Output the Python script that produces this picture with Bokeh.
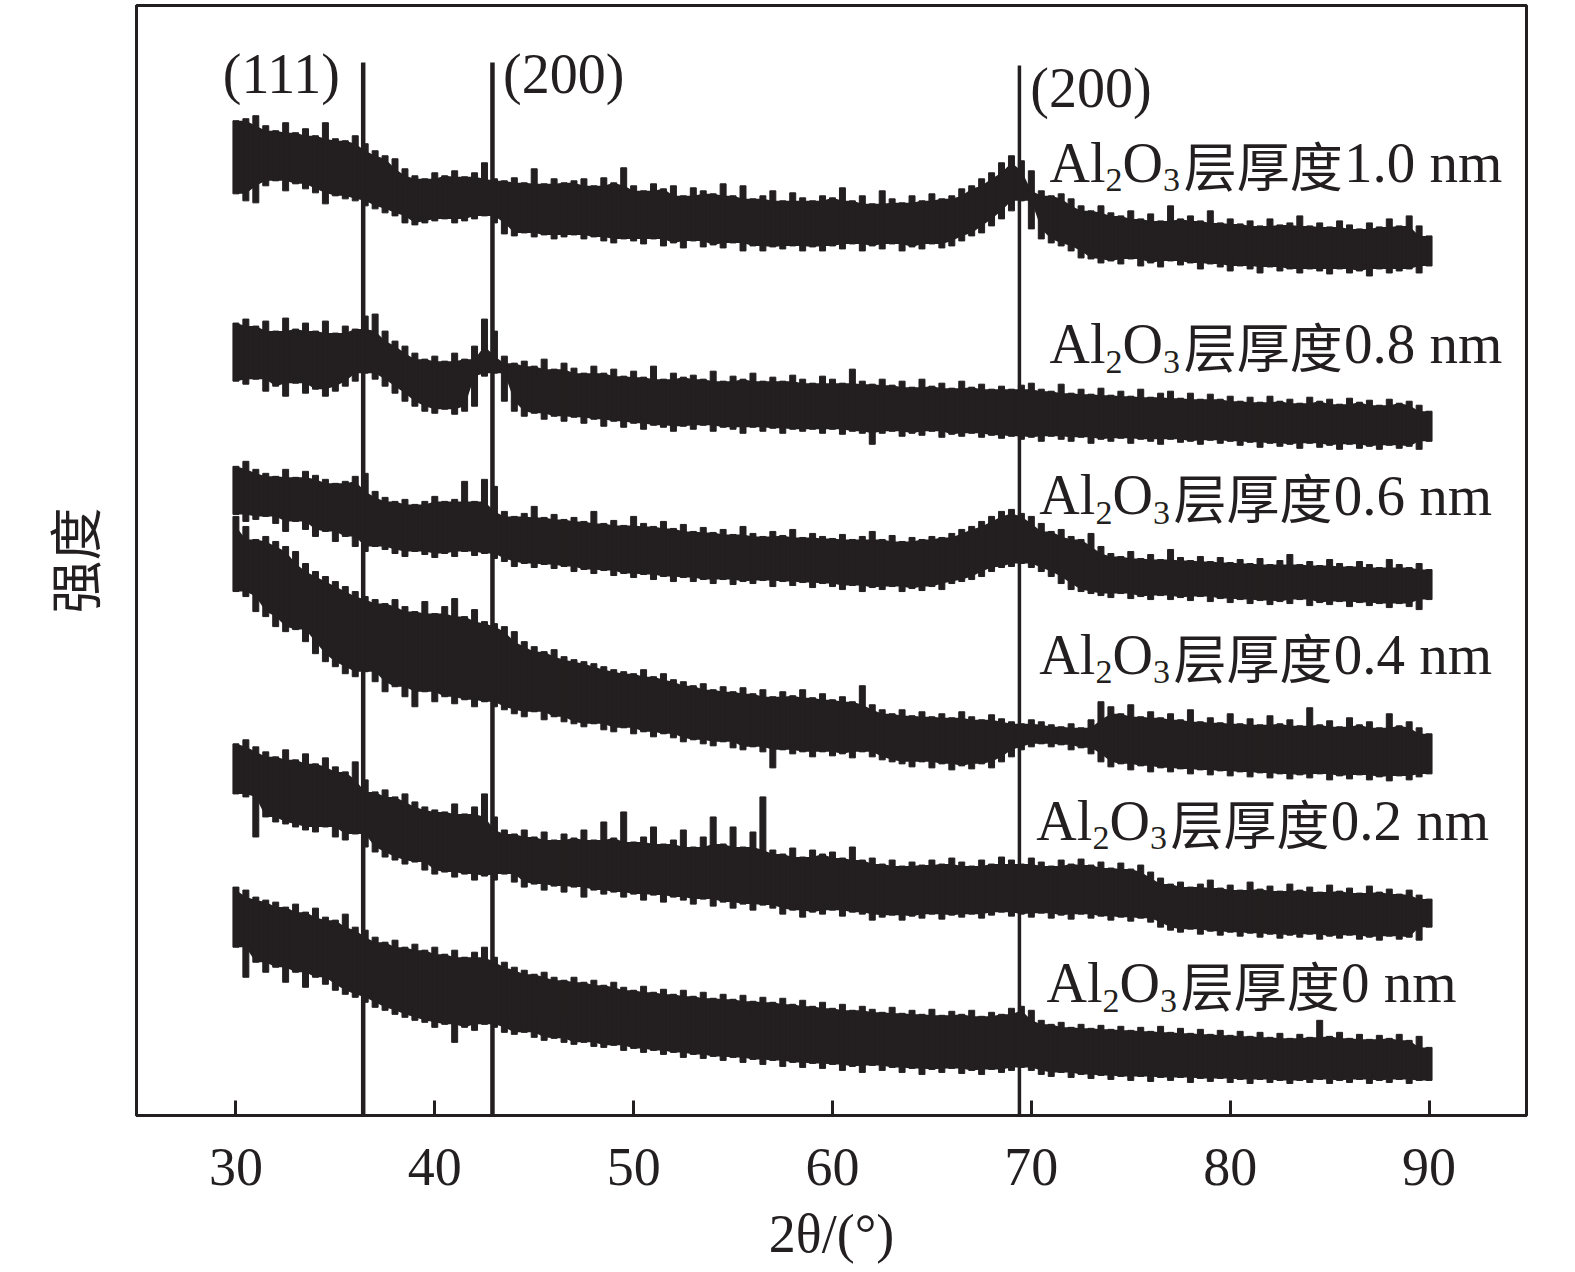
import numpy as np
from bokeh.plotting import figure
from bokeh.models import Range1d, Label, FixedTicker
from bokeh.embed import file_html
from bokeh.resources import INLINE

# ---------------- data ----------------
two_theta = np.arange(30.0, 90.01, 0.5)   # sampling grid (deg)

# upper / lower envelope of the noisy band of each pattern (offset intensity, a.u.)
hi_10 = [980,982,985,975,970,978,968,972,965,978,962,960,965,957,950,945,942,932,925,922,
         928,925,930,924,928,938,922,920,923,918,932,917,922,918,920,922,915,923,918,933,
         915,910,917,912,915,905,913,910,907,917,905,915,902,905,910,900,908,903,900,905,
         903,913,900,905,897,910,902,898,905,900,907,902,905,912,915,922,928,938,945,940,
         930,910,905,907,902,895,890,895,888,885,890,882,887,880,895,882,885,880,890,878,
         882,877,880,875,882,876,878,885,875,878,874,880,876,872,878,874,882,875,885,875,865]
lo_10 = [907,900,898,915,920,910,917,912,908,897,905,902,900,895,892,888,885,878,876,878,
         880,882,878,880,882,885,878,867,865,868,864,866,862,864,866,862,864,860,858,862,
         860,857,862,855,858,853,860,854,856,853,858,850,855,850,854,852,855,850,854,850,
         855,852,857,850,855,852,857,850,854,852,857,853,855,860,865,868,875,882,890,900,
         872,862,858,855,850,843,842,838,840,837,842,835,838,834,840,836,838,832,837,834,
         830,835,832,828,834,830,832,828,832,830,827,832,828,830,825,832,828,830,832,828,835]

hi_08 = [778,782,775,780,770,783,772,778,770,780,768,775,772,785,787,770,760,755,748,742,
         745,740,748,742,755,782,770,745,738,740,735,742,732,738,733,728,735,728,732,725,
         730,724,735,722,728,724,726,722,730,720,725,722,728,720,724,720,726,722,718,725,
         722,718,732,720,717,722,716,720,714,722,715,718,713,720,714,717,712,715,712,716,
         718,712,710,717,708,712,707,713,706,710,705,712,704,708,710,703,708,702,707,702,
         705,700,704,699,705,700,702,698,704,700,702,697,703,699,701,696,702,698,700,696,690]
lo_08 = [720,717,722,710,715,705,718,708,712,705,710,715,720,728,722,715,708,700,695,690,
         688,692,687,690,695,725,728,700,690,685,688,682,685,680,684,678,682,675,680,674,
         678,672,676,674,670,675,672,676,670,674,672,668,674,670,673,668,672,670,672,668,
         672,667,670,668,657,668,670,665,668,666,670,664,667,665,668,664,666,663,665,662,
         664,660,665,662,660,664,658,662,660,663,658,662,660,657,662,659,660,657,661,658,
         660,656,659,654,658,655,657,653,658,654,656,652,657,653,655,652,656,653,655,652,660]

hi_06 = [635,640,632,628,625,632,624,630,626,622,618,620,625,628,610,604,600,602,597,600,
         605,600,602,620,600,622,615,590,585,588,595,584,587,582,584,580,590,578,581,576,
         585,578,575,580,573,577,570,574,569,572,567,575,568,565,570,566,572,564,568,565,
         563,567,562,565,570,562,566,560,564,562,565,564,568,572,575,580,585,590,592,588,
         585,578,570,572,565,562,568,555,548,545,550,543,547,542,552,544,541,545,540,544,
         539,542,538,543,537,541,547,537,540,536,542,538,535,540,537,534,542,537,534,538,532]
lo_06 = [587,580,582,585,578,570,580,572,565,570,560,565,555,550,555,552,548,545,550,547,
         544,548,545,550,546,548,543,540,535,538,534,537,533,535,530,532,528,531,526,528,
         524,527,522,525,520,524,520,522,518,522,517,520,518,521,515,520,516,519,514,518,
         515,512,516,510,514,512,515,510,513,511,515,512,518,520,522,525,530,534,535,538,
         534,530,525,518,512,510,508,506,504,508,503,505,502,506,502,504,501,505,500,503,
         499,502,498,501,497,500,498,502,496,499,497,500,495,499,496,498,494,498,495,492,502]

hi_04 = [585,575,562,565,560,555,550,538,530,525,520,515,510,505,502,498,502,495,490,500,
         488,495,503,485,492,480,478,475,470,460,455,450,452,445,442,440,438,435,432,430,
         428,432,425,428,422,420,416,418,412,415,410,414,408,412,405,410,406,412,404,408,
         402,405,400,416,397,392,388,392,386,390,385,388,384,390,385,382,387,383,380,378,
         382,380,377,375,378,374,382,400,395,388,397,385,390,384,388,382,392,380,384,379,
         388,378,383,377,386,378,382,376,394,377,381,375,384,377,380,374,388,376,380,374,368]
lo_04 = [510,505,490,485,475,470,472,460,448,440,435,428,425,430,420,410,415,405,395,410,
         400,405,398,402,395,400,395,392,388,385,390,382,385,380,378,375,378,372,370,374,
         368,370,365,368,364,360,362,358,356,360,354,352,355,350,334,352,348,350,345,350,
         346,348,344,350,345,342,340,338,335,340,334,338,332,336,333,338,334,340,345,352,
         355,358,355,357,352,354,348,340,335,338,332,336,330,334,330,333,328,332,327,331,
         326,330,325,329,324,328,323,327,324,328,322,326,323,327,322,325,321,326,322,325,328]

hi_02 = [358,362,355,350,345,352,342,348,338,344,335,330,340,322,310,312,305,308,300,295,
         292,290,298,288,295,308,285,272,268,272,265,270,262,268,264,272,262,280,264,290,
         260,265,275,258,262,272,255,265,285,258,275,255,270,305,252,248,254,245,252,248,
         250,244,255,242,244,238,242,236,240,237,242,238,244,240,236,242,238,245,242,238,
         244,240,236,242,238,243,237,240,234,239,233,237,230,224,218,220,215,218,222,214,
         217,212,220,213,216,211,218,212,215,210,217,211,214,209,216,210,213,208,212,207,203]
lo_02 = [308,305,265,285,280,278,275,272,270,275,265,262,268,255,250,245,242,238,240,232,
         228,230,225,228,222,226,222,228,220,215,218,212,216,210,215,205,212,208,210,205,
         208,202,207,200,205,202,198,203,196,200,194,198,192,197,194,188,192,185,190,188,
         192,186,190,188,182,185,187,182,186,184,188,183,187,185,188,184,187,190,186,188,
         185,189,184,187,183,188,184,186,182,185,181,184,180,175,172,170,173,168,171,167,
         170,166,169,165,168,164,167,165,168,163,166,164,167,163,165,162,166,163,165,162,175]

hi_00 = [215,212,205,202,200,195,198,190,194,185,182,188,175,172,165,160,162,155,158,152,
         155,148,152,145,150,155,145,140,135,132,128,130,125,122,125,120,122,117,120,115,
         112,116,110,113,108,112,106,110,104,108,103,107,101,105,100,104,98,102,96,100,
         94,98,92,96,93,90,95,89,92,88,93,87,91,88,92,86,90,88,94,96,
         92,82,78,80,75,78,74,77,73,76,72,75,71,76,70,74,69,73,68,72,
         67,71,66,70,65,69,64,68,65,82,66,70,64,68,63,67,64,68,62,66,55]
lo_00 = [155,125,140,130,135,120,130,115,125,118,112,108,105,100,95,92,88,85,82,80,
         75,78,60,75,72,78,75,70,68,70,65,62,64,60,58,60,56,55,57,52,
         54,50,52,48,50,45,48,44,46,42,45,40,43,38,42,36,40,35,39,34,
         38,32,36,30,37,32,35,30,34,28,33,30,34,29,32,28,33,30,32,35,
         32,28,26,30,25,28,24,27,23,26,22,26,21,25,22,25,20,24,21,24,
         20,23,19,23,20,22,19,22,20,23,19,22,20,23,19,22,20,23,19,22,22]

patterns = [("0", hi_00, lo_00), ("0.2", hi_02, lo_02), ("0.4", hi_04, lo_04),
            ("0.6", hi_06, lo_06), ("0.8", hi_08, lo_08), ("1.0", hi_10, lo_10)]

# reference diffraction lines
peak_pos = [36.4, 42.9, 69.4]
peak_top = [1038, 1038, 1035]
peak_width = [4.5, 4.5, 3.5]
peak_labels = ["(111)", "(200)", "(200)"]
peak_label_x = [29.34, 43.43, 69.95]
peak_label_y = [1008, 1008, 994]

# series labels (left edge / baseline, data units)
thickness = ["1.0", "0.8", "0.6", "0.4", "0.2", "0"]
label_x = [70.91, 70.91, 70.40, 70.40, 70.25, 70.76]
label_y = [919, 738, 587, 428, 262, 100]

xticks = [30, 40, 50, 60, 70, 80, 90]

# ---------------- figure ----------------
INK = "#231f20"
SERIF = "Liberation Serif"
CJK = "Noto Sans CJK SC"
PX_PER_DEG = 19.85
BASE_FIX = 0.34   # Bokeh alphabetic-baseline correction (fraction of font size)

p = figure(width=1568, height=1266,
           x_range=Range1d(25.0, 94.9), y_range=Range1d(-13, 1095),
           output_backend="svg", toolbar_location=None,
           min_border_left=136, min_border_right=42,
           min_border_top=5, min_border_bottom=144)
p.grid.visible = False
p.outline_line_color = INK
p.outline_line_width = 3
p.background_fill_color = "white"
p.border_fill_color = "white"

for name, hi, lo in patterns:
    h = np.array(hi, dtype=float)
    l = np.array(lo, dtype=float)
    hp = np.concatenate([[h[0]], h[:-1]]); hn = np.concatenate([h[1:], [h[-1]]])
    lp = np.concatenate([[l[0]], l[:-1]]); ln = np.concatenate([l[1:], [l[-1]]])
    core_hi = np.minimum(np.minimum(h, hp), hn)
    core_lo = np.maximum(np.maximum(l, lp), ln)
    core_hi = np.maximum(core_hi, core_lo + 4)
    p.varea(x=two_theta, y1=core_lo, y2=core_hi, fill_color=INK)
    p.vbar(x=two_theta, width=0.3, top=h, bottom=l,
           fill_color=INK, line_color=INK, line_width=1)

for pos, top, w in zip(peak_pos, peak_top, peak_width):
    p.segment(x0=[pos], y0=[-13], x1=[pos], y1=[top], line_color=INK, line_width=w)

def add_text(x, y, txt, font, size):
    p.add_layout(Label(x=x, y=y + BASE_FIX * size, text=txt, text_font=font,
                       text_font_size=f"{size}px", text_color=INK,
                       text_align="left", text_baseline="alphabetic"))

for txt, lx, ly in zip(peak_labels, peak_label_x, peak_label_y):
    add_text(lx, ly, txt, SERIF, 56)

# pieces of "Al2O3层厚度x nm": (text, dx px, dy px, size, font)
def pieces(th):
    return [("Al", 0, 0, 56, SERIF),
            ("2", 56, -10, 34, SERIF),
            ("O", 73, 0, 56, SERIF),
            ("3", 113.4, -10, 34, SERIF),
            ("层厚度", 134, 0, 53, CJK),
            (th + " nm", 294, 0, 57, SERIF)]

for th, lx, ly in zip(thickness, label_x, label_y):
    for txt, dx, dy, size, font in pieces(th):
        add_text(lx + dx / PX_PER_DEG, ly + dy, txt, font, size)

# x axis
xa = p.xaxis[0]
xa.ticker = FixedTicker(ticks=xticks)
xa.minor_tick_line_color = None
xa.major_tick_in = 15
xa.major_tick_out = 0
xa.major_tick_line_width = 3
xa.major_tick_line_color = INK
xa.axis_line_width = 3
xa.axis_line_color = INK
xa.major_label_text_font = SERIF
xa.major_label_text_font_size = "54px"
xa.major_label_text_color = INK
xa.major_label_standoff = 33
xa.axis_label = "2θ/(°)"
xa.axis_label_text_font = SERIF
xa.axis_label_text_font_size = "54px"
xa.axis_label_text_font_style = "normal"
xa.axis_label_text_color = INK
xa.axis_label_standoff = 16

# y axis
ya = p.yaxis[0]
ya.ticker = FixedTicker(ticks=[])
ya.major_tick_line_color = None
ya.minor_tick_line_color = None
ya.major_label_text_font_size = "0px"
ya.major_label_standoff = 0
ya.axis_line_width = 3
ya.axis_line_color = INK
ya.axis_label = "强度"
ya.axis_label_text_font = CJK
ya.axis_label_text_font_size = "53px"
ya.axis_label_text_font_style = "normal"
ya.axis_label_text_color = INK
ya.axis_label_standoff = 26

open("out.html", "w").write(file_html(p, INLINE))
